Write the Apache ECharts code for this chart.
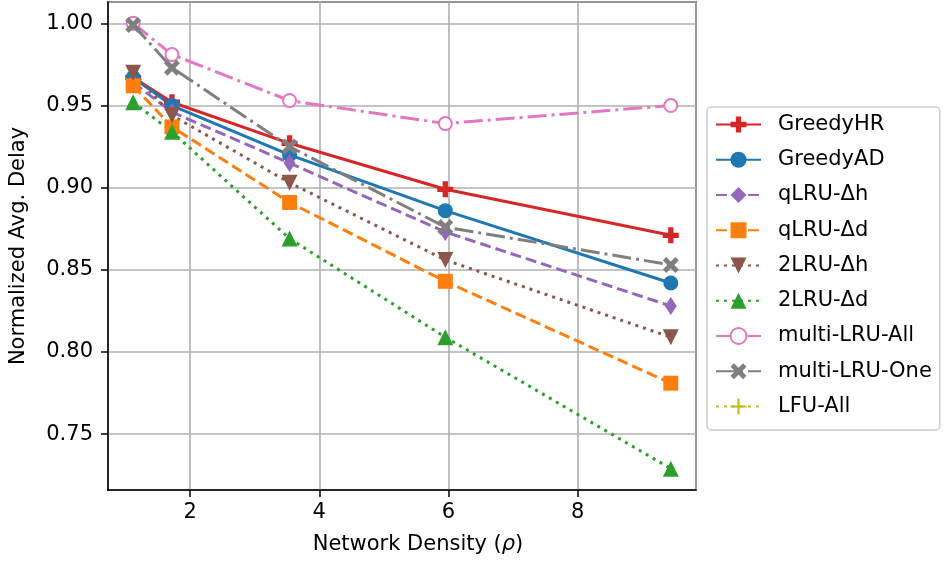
<!DOCTYPE html>
<html>
<head>
<meta charset="utf-8">
<script src="https://cdn.jsdelivr.net/npm/echarts@6/dist/echarts.min.js"></script>
<style>html,body{margin:0;padding:0;background:#fff;}#c{width:944px;height:565px;}</style>
</head>
<body>
<div id="c"></div>
<script>
const density = [1.12, 1.72, 3.54, 5.95, 9.44];
const greedyHR = [0.967, 0.952, 0.927, 0.899, 0.871];
const greedyAD = [0.967, 0.950, 0.920, 0.886, 0.842];
const qlruDh = [0.964, 0.946, 0.915, 0.873, 0.828];
const qlruDd = [0.962, 0.937, 0.891, 0.843, 0.781];
const lru2Dh = [0.970, 0.944, 0.903, 0.856, 0.809];
const lru2Dd = [0.952, 0.934, 0.869, 0.809, 0.729];
const multiAll = [1.000, 0.981, 0.953, 0.939, 0.950];
const multiOne = [0.999, 0.973, 0.925, 0.876, 0.853];
const lfuAll = [];
const seriesNames = ['GreedyHR','GreedyAD','qLRU-\u0394h','qLRU-\u0394d','2LRU-\u0394h','2LRU-\u0394d','multi-LRU-All','multi-LRU-One','LFU-All'];

const FONT = 'DejaVu Sans';
const LW = 3;
const SOLID = 'solid';
const DASH = [11, 5];
const DOT = [3, 5];
const DASHDOT = [19, 5, 3, 5];
const PLUS = 'path://M4,0L8,0L8,4L12,4L12,8L8,8L8,12L4,12L4,8L0,8L0,4L4,4Z';
const XMARK = 'path://M2.6,0L6,3.4L9.4,0L12,2.6L8.6,6L12,9.4L9.4,12L6,8.6L2.6,12L0,9.4L3.4,6L0,2.6Z';
const THINPLUS = 'path://M5.2,0L6.8,0L6.8,5.2L12,5.2L12,6.8L6.8,6.8L6.8,12L5.2,12L5.2,6.8L0,6.8L0,5.2L5.2,5.2Z';

function pts(arr){ return arr.map((v,i)=>[density[i], v]); }
function mk(name, arr, color, dash, symbol, size, extra){
  return Object.assign({
    name: name, type:'line', data: pts(arr),
    symbol: symbol, symbolSize: size, showAllSymbol:true,
    lineStyle:{color:color, width:LW, type:dash, cap:'butt'},
    itemStyle:{color:color, borderWidth:0},
    emphasis:{disabled:true}, animation:false
  }, extra||{});
}

const chart = echarts.init(document.getElementById('c'), null, {renderer:'canvas'});
chart.setOption({
  animation:false,
  grid:{left:105, right:248, top:2, bottom:75, show:true, borderColor:'#000', borderWidth:1.5, backgroundColor:'transparent'},
  xAxis:{
    type:'value', min:0.73, max:9.83, minInterval:2, maxInterval:2,
    name:'{a|Network Density (}{b|\u03c1}{a|)}', nameLocation:'middle', nameGap:44,
    nameTextStyle:{fontFamily:FONT, fontSize:21, color:'#000', padding:[0,0,0,32],
      rich:{a:{fontFamily:FONT, fontSize:21, color:'#000'}, b:{fontFamily:FONT, fontSize:21, fontStyle:'italic', color:'#000'}}},
    axisLine:{show:true, lineStyle:{color:'#000', width:1.5}},
    axisTick:{show:true, inside:false, length:7, lineStyle:{color:'#000', width:1.5}},
    axisLabel:{fontFamily:FONT, fontSize:21, color:'#000', margin:12, showMinLabel:false, showMaxLabel:false,
      formatter: v => (Math.abs(v - Math.round(v)) < 1e-9 && Math.round(v)%2===0) ? String(Math.round(v)) : ''},
    splitLine:{show:true, lineStyle:{color:'#b0b0b0', width:1.6}}
  },
  yAxis:{
    type:'value', min:0.716, max:1.013, minInterval:0.05, maxInterval:0.05,
    name:'Normalized Avg. Delay', nameLocation:'middle', nameGap:79, nameRotate:90,
    nameTextStyle:{fontFamily:FONT, fontSize:21, color:'#000'},
    axisLine:{show:true, lineStyle:{color:'#000', width:1.5}},
    axisTick:{show:true, inside:false, length:7, lineStyle:{color:'#000', width:1.5}},
    axisLabel:{fontFamily:FONT, fontSize:21, color:'#000', margin:15, showMinLabel:false, showMaxLabel:false,
      formatter: v => { const k = Math.round(v/0.05); return Math.abs(v - k*0.05) < 1e-6 ? v.toFixed(2) : ''; }},
    splitLine:{show:true, lineStyle:{color:'#b0b0b0', width:1.6}}
  },
  legend:{
    orient:'vertical', left:707, top:107,
    itemWidth:45, itemHeight:20, itemGap:14.25,
    padding:[7,8,13,8],
    borderColor:'#cccccc', borderWidth:1.5, borderRadius:4, backgroundColor:'#fff',
    textStyle:{fontFamily:FONT, fontSize:21, color:'#000', padding:[0,0,0,12]},
    data: seriesNames
  },
  series:[
    mk(seriesNames[0], greedyHR, '#d62728', SOLID, PLUS, 16),
    mk(seriesNames[1], greedyAD, '#1f77b4', SOLID, 'circle', 15),
    mk(seriesNames[2], qlruDh, '#9467bd', DASH, 'diamond', [12,18]),
    mk(seriesNames[3], qlruDd, '#ff7f0e', DASH, 'rect', 15),
    mk(seriesNames[4], lru2Dh, '#8c564b', DOT, 'triangle', 16, {symbolRotate:180}),
    mk(seriesNames[5], lru2Dd, '#2ca02c', DOT, 'triangle', 16),
    mk(seriesNames[6], multiAll, '#e377c2', DASHDOT, 'emptyCircle', 13, {itemStyle:{color:'#e377c2', borderColor:'#e377c2', borderWidth:2.8}}),
    mk(seriesNames[7], multiOne, '#7f7f7f', DASHDOT, XMARK, 16),
    mk(seriesNames[8], lfuAll, '#bcbd22', DOT, THINPLUS, 15)
  ]
});
</script>
</body>
</html>
